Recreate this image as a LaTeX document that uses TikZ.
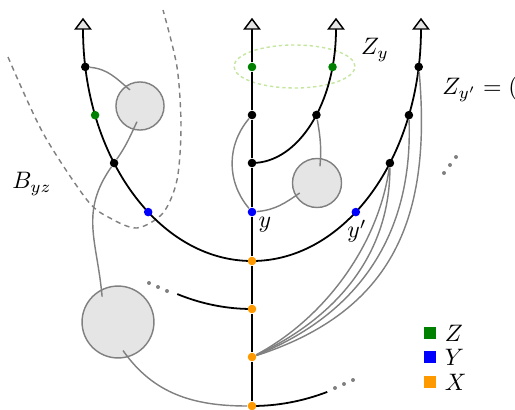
\documentclass[tikz,border=0pt]{standalone}
\usetikzlibrary{positioning}
\definecolor{zgreen}{RGB}{0,128,0}
\definecolor{xorange}{RGB}{255,153,0}
\definecolor{palegreen}{RGB}{196,230,160}
\pgfdeclarelayer{back}
\pgfdeclarelayer{edges}
\pgfsetlayers{back,edges,main}
\begin{document}
\begin{tikzpicture}[x=0.42pt,y=0.42pt,
    dot/.style={circle,fill=#1,inner sep=0pt,minimum size=3.6pt},
    dot/.default=black,
    branch/.style={line width=0.75pt},
    link/.style={gray,line width=0.6pt},
    ball/.style={circle,draw=gray,fill=gray!20,line width=0.6pt,inner sep=0pt,minimum size=#1},
    keybox/.style={rectangle,fill=#1,inner sep=0pt,minimum size=5pt},
    leaf/.pic={\draw[fill=gray!20,line width=0.6pt] (-7.5,0) -- (7.5,0) -- (0,10) -- cycle;}]
    \useasboundingbox (0,0) rectangle (515,409);
    \clip (0,0) rectangle (515,409);

    % common centre of the branches
    \coordinate (o) at (252,380);

    % leaves
    \coordinate (t1) at (83,380);
    \coordinate (t2) at (252,380);
    \coordinate (t3) at (336,380);
    \coordinate (t4) at (421,380);
    \pic at (t1) {leaf};
    \pic at (t2) {leaf};
    \pic at (t3) {leaf};
    \pic at (t4) {leaf};

    % trunk
    \node[dot=zgreen] (z1) at (252,342) {};
    \node[dot] (k1) at (252,294) {};
    \node[dot] (c1) at (252,246) {};
    \node[dot=blue] (y1) at (252,197) {};
    \node[dot=xorange] (x1) at (252,148) {};
    \node[dot=xorange] (x2) at (252,100) {};
    \node[dot=xorange] (x3) at (252,52) {};
    \node[dot=xorange] (x4) at (252,3) {};

    % outer branch
    \node[dot] (a1) at ([shift={(189.4:169 and 232)}]o) {};
    \node[dot=zgreen] (a2) at ([shift={(201.8:169 and 232)}]o) {};
    \node[dot] (a3) at ([shift={(215.3:169 and 232)}]o) {};
    \node[dot=blue] (a4) at ([shift={(232.1:169 and 232)}]o) {};
    \node[dot=blue] (b4) at ([shift={(307.9:169 and 232)}]o) {};
    \node[dot] (b3) at ([shift={(324.7:169 and 232)}]o) {};
    \node[dot] (b2) at ([shift={(338.2:169 and 232)}]o) {};
    \node[dot] (b1) at ([shift={(350.6:169 and 232)}]o) {};

    % inner branch
    \node[dot] (d1) at ([shift={(320.1:84 and 134)}]o) {};
    \node[dot=zgreen] (d2) at ([shift={(343.5:84 and 134)}]o) {};

    \begin{pgfonlayer}{back}
    % region B_yz
    \draw[gray,line width=0.6pt,dash pattern=on 2.2pt off 1.8pt] plot[smooth] coordinates
        {(8,352) (43,276) (87,209) (110,191) (137,181) (163,196) (177,229) (181,282) (177,342) (163,399)};
    \draw[palegreen,line width=0.6pt,dash pattern=on 1.4pt off 1.2pt] (294.5,342.5) ellipse [x radius=60.5,y radius=21.5];
    % subtrees
    \node[ball=20.2pt] (C1) at (140,303) {};
    \node[ball=20.6pt] (C2) at (317,226) {};
    \node[ball=30.2pt] (C3) at (118,87) {};
    \end{pgfonlayer}

    \begin{pgfonlayer}{edges}
    \draw[branch] (t2) -- (z1) -- (k1) -- (c1) -- (y1) -- (x1) -- (x2) -- (x3) -- (x4) -- (252,-10);
    \draw[branch] (t1) arc[start angle=180,end angle=360,x radius=169,y radius=232];
    \draw[branch] (c1.center) arc[start angle=270,end angle=360,x radius=84,y radius=134];
    \draw[branch] (x2.center) arc[start angle=270,end angle=251.2,x radius=232,y radius=280];
    \draw[branch] (x4.center) arc[start angle=270,end angle=285.7,x radius=278,y radius=377];

    \draw[link] (a1) to[out=-5,in=140] ([shift={(122:19)}]C1.center);
    \draw[link] (a3) to[out=55,in=-115] ([shift={(259:16)}]C1.center);
    \draw[link] (a3) to[out=-125,in=95,looseness=1.1] ([shift={(122:30)}]C3.center);
    \draw[link] ([shift={(-80:29)}]C3.center) to[out=-55,in=180] (x4);
    \draw[link] (k1) to[out=-130,in=130] (y1);
    \draw[link] (y1) to[out=5,in=-145] ([shift={(210:20)}]C2.center);
    \draw[link] (d1) to[out=-80,in=85] ([shift={(80:17)}]C2.center);

    \draw[link] (x3) .. controls +(28:80) and +(-98:85) .. (b3);
    \draw[link] (x3) .. controls +(25:95) and +(-90:90) .. (b3);
    \draw[link] (x3) .. controls +(22:115) and +(-88:120) .. (b2);
    \draw[link] (x3) .. controls +(18:150) and +(-85:150) .. (b1);
    \end{pgfonlayer}

    % dots
    \foreach \px/\py in {149/126,158/122,167/118, 335/21,344/25,353/29, 444/236,450/244,456/252}
        \fill[gray] (\px,\py) circle [radius=2];

    % labels
    \node (byz) at (32,225) {$B_{yz}$};
    \node (zy) at (375,359) {$Z_y$};
    \node[anchor=west,inner sep=0pt] (zyp) at (442,320) {$Z_{y'} = ($};
    \node (ylab) at (265,184) {$y$};
    \node (yplab) at (357,178) {$y'$};

    % key
    \node[keybox=zgreen] (kz) at (430,76) {};
    \node[keybox=blue] (ky) at (430,52) {};
    \node[keybox=xorange] (kx) at (430,27) {};
    \node[right=0pt of kz] (kzt) {$Z$};
    \node[right=0pt of ky] (kyt) {$Y$};
    \node[right=0pt of kx] (kxt) {$X$};
\end{tikzpicture}
\end{document}
